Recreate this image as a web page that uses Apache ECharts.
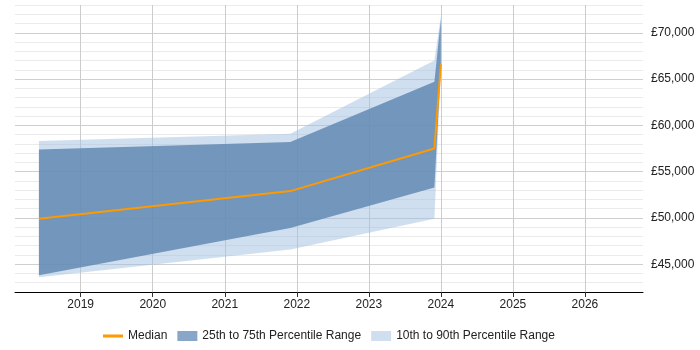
<!DOCTYPE html>
<html>
<head>
<meta charset="utf-8">
<script src="https://cdn.jsdelivr.net/npm/echarts@6/dist/echarts.min.js"></script>
<style>
  html, body { margin: 0; padding: 0; background: #fff; }
  #chart { width: 700px; height: 350px; }
</style>
</head>
<body>
<div id="chart"></div>
<script>
// data
var years = [2018.42, 2021.91, 2023.91, 2024.0];
var p10 = [43600, 46600, 49900, 66000];
var p25 = [43800, 48900, 53300, 66400];
var median = [49900, 52900, 57500, 66600];
var p75 = [57400, 58200, 64700, 71500];
var p90 = [58300, 59100, 67000, 71800];

var myChart = echarts.init(document.getElementById('chart'));

var font = 'Liberation Sans, Arial, sans-serif';

// band drawn as one polygon through the axis scales
function bandSeries(name, lo, hi, fill) {
    return {
        name: name,
        type: 'custom',
        silent: true,
        itemStyle: { color: fill },
        encode: { x: 0, y: [1, 2] },
        data: years.map(function (x, i) { return [x, lo[i], hi[i]]; }),
        renderItem: function (params, api) {
            if (params.dataIndex !== 0) return;
            var pts = [];
            for (var i = 0; i < years.length; i++) pts.push(api.coord([years[i], hi[i]]));
            for (var j = years.length - 1; j >= 0; j--) pts.push(api.coord([years[j], lo[j]]));
            return { type: 'polygon', shape: { points: pts }, style: { fill: fill } };
        }
    };
}

var option = {
    animation: false,
    textStyle: { fontFamily: font },
    grid: { left: 15, right: 57, top: 5, bottom: 58 },
    legend: {
        bottom: 3,
        left: 98,
        itemWidth: 20,
        itemHeight: 10,
        itemGap: 10,
        textStyle: { fontSize: 12, color: '#222', fontFamily: font },
        data: [
            { name: 'Median', icon: 'path://M0,0 L20,0 L20,3 L0,3 Z', itemStyle: { color: '#ff9900' } },
            { name: '25th to 75th Percentile Range', icon: 'rect', itemStyle: { color: '#88a6c7' } },
            { name: '10th to 90th Percentile Range', icon: 'rect', itemStyle: { color: '#cfdff0' } }
        ]
    },
    xAxis: {
        type: 'value',
        min: 2018.088,
        max: 2026.806,
        minInterval: 1,
        maxInterval: 1,
        axisLine: { show: true, onZero: false, lineStyle: { color: '#000', width: 1 } },
        axisTick: { show: true, length: 5, lineStyle: { color: '#333' } },
        axisLabel: {
            color: '#222', fontSize: 12, margin: 7,
            showMinLabel: false, showMaxLabel: false,
            formatter: function (v) { return Math.abs(v - Math.round(v)) < 1e-6 ? String(Math.round(v)) : ''; }
        },
        splitLine: { show: true, showMinLine: false, showMaxLine: false, lineStyle: { color: '#cccccc' } }
    },
    yAxis: {
        type: 'value',
        position: 'right',
        min: 42000,
        max: 73000,
        interval: 1000,
        axisLine: { show: false },
        axisTick: { show: false },
        axisLabel: {
            color: '#222', fontSize: 12, margin: 8,
            formatter: function (v) {
                if (v % 5000 !== 0) return '';
                return '£' + v.toLocaleString('en-GB');
            }
        },
        splitLine: {
            show: true,
            lineStyle: { color: ['#ebebeb', '#ebebeb', '#ebebeb', '#cfcfcf', '#ebebeb'] }
        }
    },
    series: [
        bandSeries('10th to 90th Percentile Range', p10, p90, 'rgba(162,192,225,0.5)'),
        bandSeries('25th to 75th Percentile Range', p25, p75, 'rgba(92,133,176,0.8)'),
        {
            name: 'Median', type: 'line', symbol: 'none',
            data: years.map(function (x, i) { return [x, median[i]]; }),
            itemStyle: { color: '#ff9900' },
            lineStyle: { color: '#ff9900', width: 2 }
        }
    ]
};

myChart.setOption(option);
</script>
</body>
</html>
